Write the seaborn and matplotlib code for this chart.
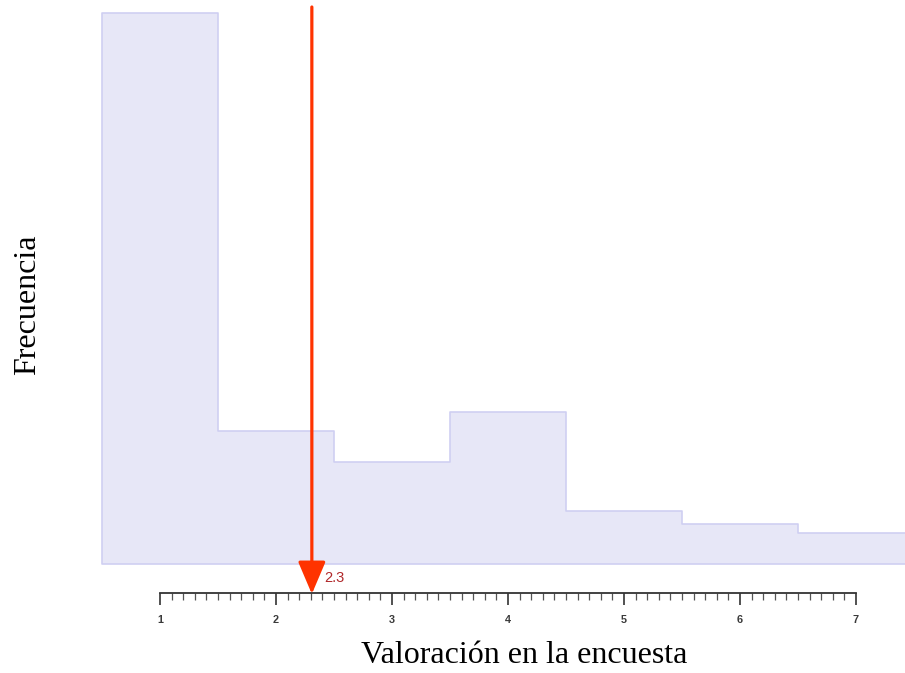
import numpy as np
import pandas as pd
import matplotlib
matplotlib.use("Agg")
import matplotlib.pyplot as plt
import seaborn as sns

# Survey ratings (1-7) and how many respondents gave each one
ratings = [1, 2, 3, 4, 5, 6, 7]
counts = [178, 43, 33, 49, 17, 13, 10]
tick_values = [1, 2, 3, 4, 5, 6, 7]

df = pd.DataFrame({"valor": ratings, "n": counts})
mean_val = np.average(df["valor"], weights=df["n"])

sns.set_theme(style="white")
plt.rcParams["font.family"] = ["DejaVu Sans"]

W, H, DPI = 905, 673, 100
fig = plt.figure(figsize=(W / DPI, H / DPI), dpi=DPI)

# x range shared by histogram and ruler (116 px per rating unit)
px_per_unit = 116.0
x0 = 1 - 160 / px_per_unit
x1 = 1 + (W - 160) / px_per_unit

# Histogram panel
ax = fig.add_axes([0, (H - 564) / H, 1, 564 / H])
sns.histplot(data=df, x="valor", weights="n", discrete=True, element="step",
             fill=True, color="#c9c9f0", alpha=1.0, linewidth=1.2,
             ax=ax)
for coll in ax.collections:
    coll.set_facecolor("#e7e7f7")
    coll.set_edgecolor("#cfcff2")
for ln in ax.lines:
    ln.set_color("#cfcff2")
ax.set_xlim(x0, x1)
ax.set_ylim(0, max(counts) * 564 / 551)
ax.set_axis_off()

fig.text(28 / W, 1 - 305 / H, "Frecuencia", rotation=90, ha="center", va="center",
         fontsize=23, family="Liberation Serif", color="black")

# Ruler axis below the histogram
rx = fig.add_axes([0, (H - 593) / H, 1, 0.0005])
rx.set_xlim(x0, x1)
rx.set_yticks([])
for s in ["top", "left", "right"]:
    rx.spines[s].set_visible(False)
rx.spines["bottom"].set_bounds(tick_values[0], tick_values[-1])
rx.spines["bottom"].set_color("#333333")
rx.spines["bottom"].set_linewidth(1.3)
rx.set_xticks(tick_values)
rx.set_xticklabels([str(v) for v in tick_values], family="Liberation Sans",
                   fontweight="bold")
rx.set_xticks(np.arange(tick_values[0], tick_values[-1] + 0.001, 0.1), minor=True)
rx.tick_params(axis="x", which="major", direction="out", length=8.6, width=1.2,
               color="#333333", labelsize=7.8, labelcolor="#3a3a3a", pad=7,
               bottom=True)
rx.tick_params(axis="x", which="minor", direction="out", length=4.8, width=0.9,
               color="#555555", bottom=True)
rx.set_facecolor("none")
rx.set_xlabel("Valoración en la encuesta", fontsize=23, family="Liberation Serif",
              color="black", labelpad=12)
rx.xaxis.label.set_x(524 / W)

# Mean marker: red arrow pointing at the ruler
ax.annotate("", xy=(mean_val, H - 594), xycoords=("data", "figure pixels"),
            xytext=(mean_val, H - 7), textcoords=("data", "figure pixels"),
            arrowprops=dict(arrowstyle="-|>,head_length=2.0,head_width=0.85",
                            mutation_scale=10, color="#ff3300", lw=2.3,
                            shrinkA=0, shrinkB=0),
            annotation_clip=False)
ax.annotate(f"{mean_val:.1f}", xy=(mean_val, H - 578), xycoords=("data", "figure pixels"),
            xytext=(12, 0), textcoords="offset pixels", ha="left", va="center",
            fontsize=10.5, family="Liberation Sans", color="#b0282a",
            annotation_clip=False)

fig.savefig("out.png", dpi=DPI)
